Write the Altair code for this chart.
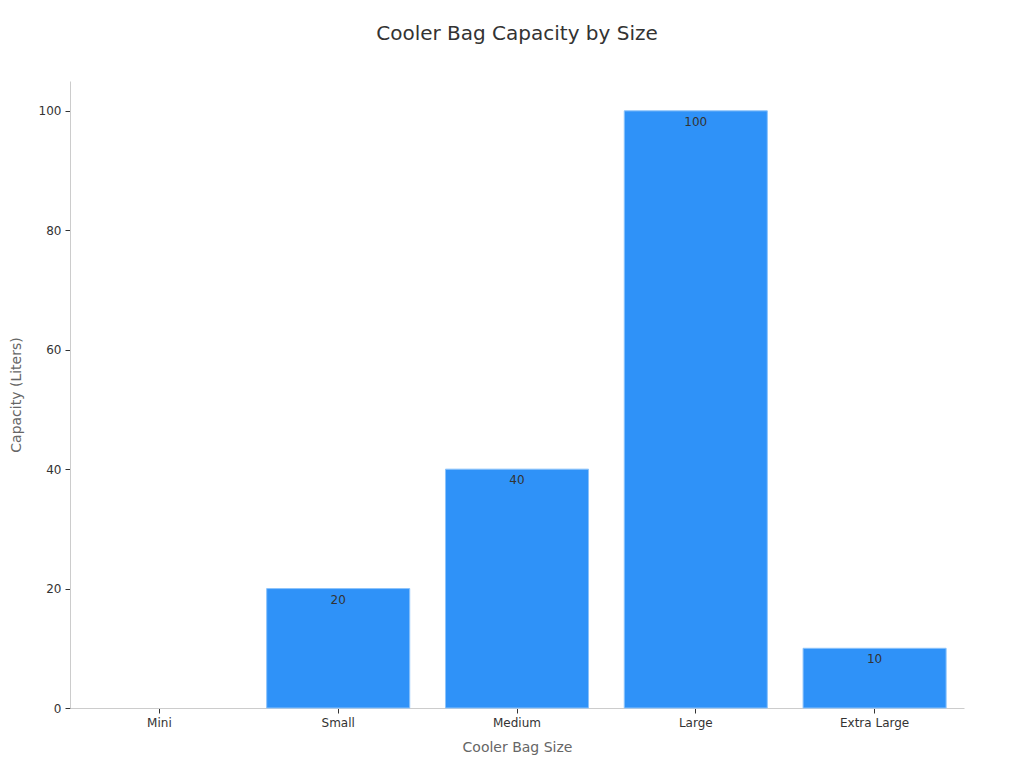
import altair as alt
import pandas as pd

sizes = ["Mini", "Small", "Medium", "Large", "Extra Large"]
capacity = [0, 20, 40, 100, 10]

df = pd.DataFrame({"size": sizes, "cap": capacity})

base = alt.Chart(df)

bars = base.mark_bar(color="#2f92f8", stroke="#8cc3fb", strokeWidth=1).encode(
    x=alt.X("size:N", sort=sizes, title="Cooler Bag Size",
            scale=alt.Scale(paddingInner=0.2, paddingOuter=0.1),
            axis=alt.Axis(labelAngle=0, labelFontSize=12, labelColor="#333333",
                          titleFontSize=14, titleColor="#666666", titleFontWeight="normal",
                          domainColor="#cccccc", tickColor="#333333", tickSize=5,
                          labelPadding=4, titlePadding=12)),
    y=alt.Y("cap:Q", title="Capacity (Liters)",
            scale=alt.Scale(domain=[0, 105], nice=False),
            axis=alt.Axis(values=[0, 20, 40, 60, 80, 100], grid=False,
                          labelFontSize=12, labelColor="#333333",
                          titleFontSize=14, titleColor="#666666", titleFontWeight="normal",
                          domainColor="#cccccc", tickColor="#333333", tickSize=5,
                          labelPadding=4, titlePadding=15)),
    strokeOpacity=alt.condition(alt.datum.cap > 0, alt.value(1), alt.value(0)),
)

labels = base.transform_filter(alt.datum.cap > 0).mark_text(
    baseline="middle", dy=11, fontSize=12, color="#333333"
).encode(
    x=alt.X("size:N", sort=sizes),
    y=alt.Y("cap:Q"),
    text=alt.Text("cap:Q"),
)

chart = (bars + labels).properties(
    width=894, height=627,
    title=alt.TitleParams("Cooler Bag Capacity by Size", fontSize=20, fontWeight="normal",
                          color="#333333", offset=37, anchor="middle"),
    autosize=alt.AutoSizeParams(type="none"),
    padding={"left": 62, "top": 73, "right": 52, "bottom": 52},
).configure(font="DejaVu Sans").configure_view(strokeWidth=0)

chart.save("out.html", embed_options={"renderer": "svg", "actions": False})
